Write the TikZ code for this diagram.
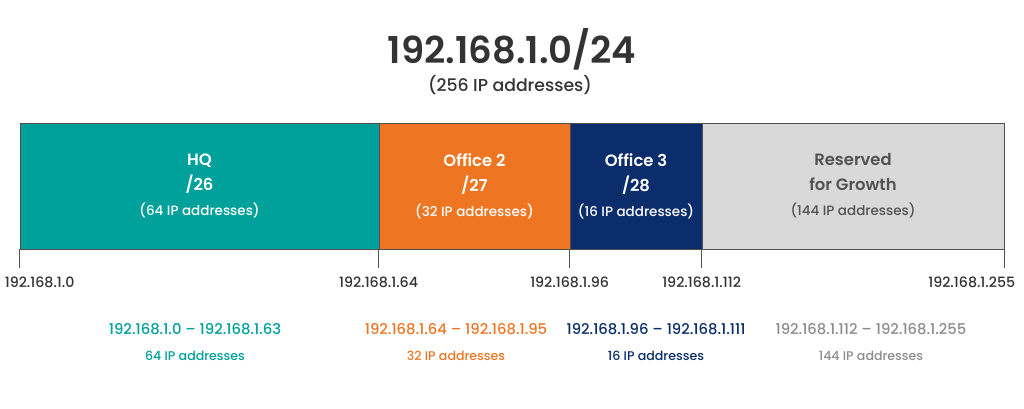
\documentclass[tikz,border=0pt]{standalone}
\usepackage{fontspec}
\setmainfont{Poppins}[UprightFont={* Medium}, BoldFont={* SemiBold}]
\usetikzlibrary{positioning}
\definecolor{hqteal}{HTML}{00A19A}
\definecolor{officeorange}{HTML}{EE7623}
\definecolor{officenavy}{HTML}{0C2D6B}
\definecolor{reservegray}{HTML}{D9D9D9}
\definecolor{framegray}{HTML}{505050}
\definecolor{titlegray}{HTML}{333333}
\definecolor{softgray}{HTML}{8C8C8C}

\begin{document}
\begin{tikzpicture}[x=1pt, y=-1pt,
    block/.style={draw=framegray, line width=0.8pt, minimum height=126pt, inner sep=0pt,
        align=center, text=white, font=\fontsize{16.4}{25}\selectfont\bfseries},
    tick/.style={draw=framegray, line width=0.8pt},
    addr/.style={text=titlegray, inner sep=0pt, font=\fontsize{14.2}{16}\selectfont},
    rangelabel/.style={align=center, inner sep=0pt, font=\fontsize{14.8}{26}\selectfont}]
    \useasboundingbox (0,0) rectangle (1024,409);

    % title
    \node[text=titlegray, font=\fontsize{37}{40}\selectfont\bfseries] (title) at (512,49) {192.168.1.0/24};
    \node[text=titlegray, font=\fontsize{17.3}{22}\selectfont] (total) at (510,85) {(256 IP addresses)};

    % address blocks
    \node[block, fill=hqteal, minimum width=359pt] (hq) at (199.5,186)
        {HQ\\/26\\{\fontsize{13.5}{26}\selectfont\mdseries (64 IP addresses)}};
    \node[block, fill=officeorange, minimum width=191pt] (office2) at (474.5,186)
        {Office 2\\/27\\{\fontsize{13.5}{26}\selectfont\mdseries (32 IP addresses)}};
    \node[block, fill=officenavy, minimum width=132pt] (office3) at (636,186)
        {Office 3\\/28\\{\fontsize{13.5}{26}\selectfont\mdseries (16 IP addresses)}};
    \node[block, fill=reservegray, text=titlegray!85, minimum width=302pt] (reserved) at (853,186)
        {Reserved\\for Growth\\{\fontsize{13.5}{26}\selectfont\mdseries (144 IP addresses)}};

    % ticks
    \draw[tick] (hq.south west) -- ++(0,19) coordinate (t0);
    \draw[tick] (office2.south west) -- ++(0,19) coordinate (t64);
    \draw[tick] (office3.south west) -- ++(0,19) coordinate (t96);
    \draw[tick] (reserved.south west) -- ++(0,19) coordinate (t112);
    \draw[tick] (reserved.south east) -- ++(0,19) coordinate (t255);

    \node[addr, below right=8pt and -15pt of t0] (a0) {192.168.1.0};
    \node[addr, below=8pt of t64] (a64) {192.168.1.64};
    \node[addr, below=8pt of t96] (a96) {192.168.1.96};
    \node[addr, below=8pt of t112] (a112) {192.168.1.112};
    \node[addr, below left=8pt and -11pt of t255] (a255) {192.168.1.255};

    % ranges
    \node[rangelabel, text=hqteal] (r1) at (195,342) {192.168.1.0 – 192.168.1.63\\{\fontsize{12.6}{26}\selectfont 64 IP addresses}};
    \node[rangelabel, text=officeorange] (r2) at (456,342) {192.168.1.64 – 192.168.1.95\\{\fontsize{12.6}{26}\selectfont 32 IP addresses}};
    \node[rangelabel, text=officenavy] (r3) at (656,342) {192.168.1.96 – 192.168.1.111\\{\fontsize{12.6}{26}\selectfont 16 IP addresses}};
    \node[rangelabel, text=softgray] (r4) at (871,342) {192.168.1.112 – 192.168.1.255\\{\fontsize{12.6}{26}\selectfont 144 IP addresses}};
\end{tikzpicture}
\end{document}
